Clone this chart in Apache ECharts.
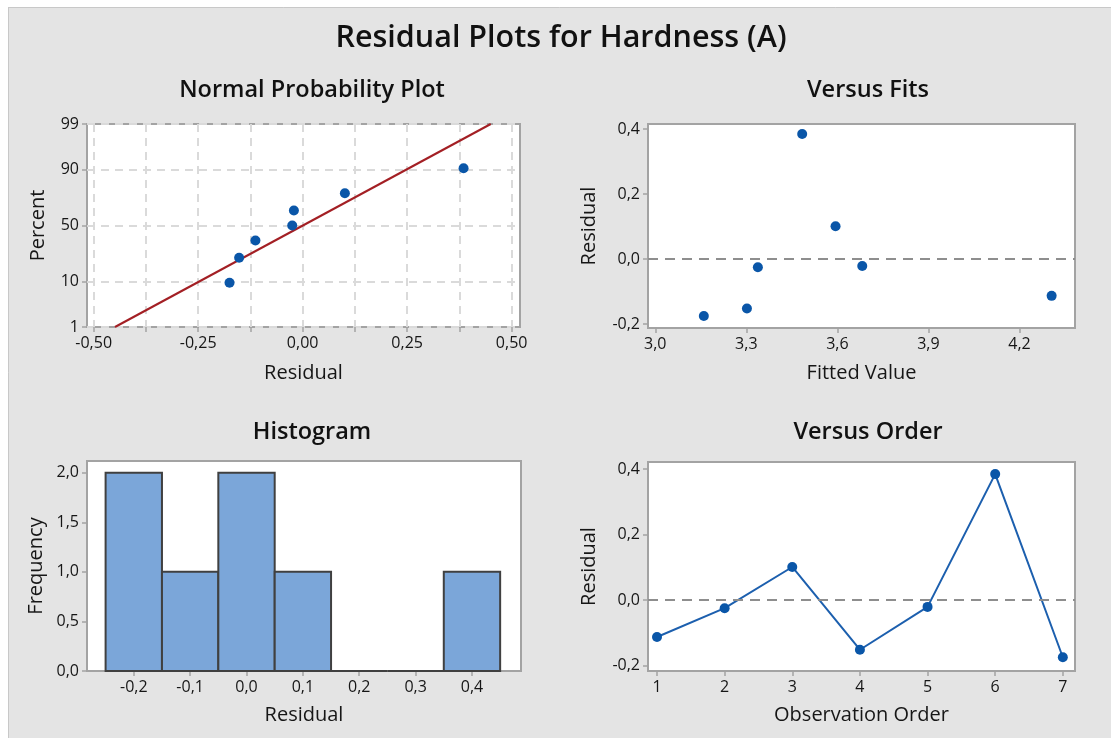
<!DOCTYPE html>
<html>
<head>
<meta charset="utf-8">
<script src="https://cdn.jsdelivr.net/npm/echarts@6/dist/echarts.min.js"></script>
<style>
html,body{margin:0;padding:0;background:#fff;}
#chart{width:1111px;height:738px;}
</style>
</head>
<body>
<div id="chart"></div>
<script>
// ---- Data ----
const mainTitle = 'Residual Plots for Hardness (A)';
const observationOrder = [1, 2, 3, 4, 5, 6, 7];
const residuals = [-0.113, -0.025, 0.101, -0.152, -0.021, 0.385, -0.175];
const fittedValues = [4.306, 3.338, 3.594, 3.302, 3.682, 3.484, 3.160];
const normalPercents = [9.46, 22.97, 36.49, 50, 63.51, 77.03, 90.54];
const normalFitLine = [[-0.449, 1], [0.450, 99]]; // [residual, percent]
const percentTicks = [1, 10, 50, 90, 99];
const normalXTicks = [-0.5, -0.375, -0.25, -0.125, 0, 0.125, 0.25, 0.375, 0.5];
const normalXLabels = [-0.5, -0.25, 0, 0.25, 0.5];
const fitsXLabels = [3.0, 3.3, 3.6, 3.9, 4.2];
const residYLabels = [-0.2, 0, 0.2, 0.4];
const histBinCenters = [-0.2, -0.1, 0.0, 0.1, 0.2, 0.3, 0.4];
const histCounts = [2, 1, 2, 1, 0, 0, 1];
const histBinWidth = 0.1;
const histYLabels = [0, 0.5, 1.0, 1.5, 2.0];

// inverse standard normal (probability-axis scale transform)
function probit(p) {
  const a = [-3.969683028665376e+01, 2.209460984245205e+02, -2.759285104469687e+02, 1.383577518672690e+02, -3.066479806614716e+01, 2.506628277459239e+00];
  const b = [-5.447609879822406e+01, 1.615858368580409e+02, -1.556989798598866e+02, 6.680131188771972e+01, -1.328068155288572e+01];
  const c = [-7.784894002430293e-03, -3.223964580411365e-01, -2.400758277161838e+00, -2.549732539343734e+00, 4.374664141464968e+00, 2.938163982698783e+00];
  const d = [7.784695709041462e-03, 3.224671290700398e-01, 2.445134137142996e+00, 3.754408661907416e+00];
  const pl = 0.02425, ph = 1 - pl;
  let q, r;
  if (p < pl) { q = Math.sqrt(-2 * Math.log(p)); return (((((c[0]*q+c[1])*q+c[2])*q+c[3])*q+c[4])*q+c[5]) / ((((d[0]*q+d[1])*q+d[2])*q+d[3])*q+1); }
  if (p <= ph) { q = p - 0.5; r = q*q; return (((((a[0]*r+a[1])*r+a[2])*r+a[3])*r+a[4])*r+a[5])*q / (((((b[0]*r+b[1])*r+b[2])*r+b[3])*r+b[4])*r+1); }
  q = Math.sqrt(-2 * Math.log(1 - p)); return -(((((c[0]*q+c[1])*q+c[2])*q+c[3])*q+c[4])*q+c[5]) / ((((d[0]*q+d[1])*q+d[2])*q+d[3])*q+1);
}
function zOf(pct) { return probit(pct / 100); }
function fmt(v, dec) { let s = Math.abs(v) < 1e-9 ? (0).toFixed(dec) : v.toFixed(dec); return s.replace('.', ','); }

const sortedResid = residuals.slice().sort((x, y) => x - y);
const normalPoints = sortedResid.map((r, i) => [r, zOf(normalPercents[i])]);
const fitLineData = normalFitLine.map(p => [p[0], zOf(p[1])]);
const percentZ = percentTicks.map(zOf);
const fitsPoints = fittedValues.map((f, i) => [f, residuals[i]]);
const orderPoints = observationOrder.map((o, i) => [o, residuals[i]]);
const histData = histBinCenters.map((c, i) => [c - histBinWidth / 2, c + histBinWidth / 2, histCounts[i]]);

const FONT = '"Open Sans", "Noto Sans", sans-serif';
const TXT = '#161616';
const BOX = '#a3a3a3';
const BLUE = '#0a56a8';
const LABEL = { color: TXT, fontSize: 16, fontFamily: FONT, margin: 8 };
const TICK = { show: true, length: 5, lineStyle: { color: BOX, width: 1.5 } };

function axis(gridIndex, min, max, name, nameGap, ticks, labels, formatter, extra) {
  return Object.assign({
    type: 'value', gridIndex, min, max, name, nameGap,
    axisLine: { show: false, onZero: false },
    axisTick: Object.assign({ customValues: ticks }, TICK),
    axisLabel: Object.assign({ customValues: labels, formatter }, LABEL),
    splitLine: { show: false },
    nameLocation: 'middle',
    nameTextStyle: { color: TXT, fontSize: 20, fontFamily: FONT }
  }, extra || {});
}

const gridStyle = { show: true, backgroundColor: '#ffffff', borderColor: BOX, borderWidth: 2 };
const dashGrid = { show: true, lineStyle: { color: '#dadada', width: 2, type: [8, 6] } };

function pctFormatter(v) {
  let best = percentTicks[0], bd = 1e9;
  percentTicks.forEach(p => { const dd = Math.abs(zOf(p) - v); if (dd < bd) { bd = dd; best = p; } });
  return String(best);
}

const option = {
  backgroundColor: '#e4e4e4',
  animation: false,
  grid: [
    Object.assign({ left: 87, top: 124, width: 433, height: 203 }, gridStyle),
    Object.assign({ left: 648, top: 124, width: 427, height: 204 }, gridStyle),
    Object.assign({ left: 87, top: 461, width: 434, height: 210 }, gridStyle),
    Object.assign({ left: 648, top: 462, width: 427, height: 209 }, gridStyle)
  ],
  xAxis: [
    axis(0, -0.516, 0.52, 'Residual', 36, normalXTicks, normalXLabels, v => fmt(v, 2), { splitLine: dashGrid }),
    axis(1, 2.976, 4.383, 'Fitted Value', 35, fitsXLabels, fitsXLabels, v => fmt(v, 1)),
    axis(2, -0.283, 0.487, 'Residual', 34, histBinCenters, histBinCenters, v => fmt(v, 1)),
    axis(3, 0.867, 7.18, 'Observation Order', 34, observationOrder, observationOrder, v => String(Math.round(v)))
  ],
  yAxis: [
    axis(0, percentZ[0] - 1e-9, percentZ[percentZ.length - 1] + 1e-9, 'Percent', 39, percentZ, percentZ, pctFormatter, { splitLine: dashGrid }),
    axis(1, -0.212, 0.416, 'Residual', 49, residYLabels, residYLabels, v => fmt(v, 1)),
    axis(2, 0, 2.118, 'Frequency', 41, histYLabels, histYLabels, v => fmt(v, 1)),
    axis(3, -0.217, 0.422, 'Residual', 49, residYLabels, residYLabels, v => fmt(v, 1))
  ],
  series: [
    { type: 'line', xAxisIndex: 0, yAxisIndex: 0, data: fitLineData, symbol: 'none',
      lineStyle: { color: '#a31f24', width: 2 }, silent: true, z: 3 },
    { type: 'scatter', xAxisIndex: 0, yAxisIndex: 0, data: normalPoints, symbolSize: 10,
      itemStyle: { color: BLUE, opacity: 1 }, z: 4 },
    { type: 'scatter', xAxisIndex: 1, yAxisIndex: 1, data: fitsPoints, symbolSize: 10,
      itemStyle: { color: BLUE, opacity: 1 }, z: 4,
      markLine: { silent: true, symbol: 'none', label: { show: false },
        lineStyle: { color: '#8e8e8e', width: 2, type: [10, 7] }, data: [{ yAxis: 0 }] } },
    { type: 'custom', xAxisIndex: 2, yAxisIndex: 2, data: histData,
      renderItem: function (params, api) {
        const p0 = api.coord([api.value(0), api.value(2)]);
        const p1 = api.coord([api.value(1), 0]);
        return { type: 'rect', shape: { x: p0[0], y: p0[1], width: p1[0] - p0[0], height: p1[1] - p0[1] },
          style: { fill: '#7ba6d9', stroke: '#404040', lineWidth: 2 } };
      }, z: 3 },
    { type: 'line', xAxisIndex: 3, yAxisIndex: 3, data: orderPoints, symbol: 'circle', symbolSize: 10,
      lineStyle: { color: '#1c5fae', width: 2 }, itemStyle: { color: BLUE }, z: 4,
      markLine: { silent: true, symbol: 'none', label: { show: false },
        lineStyle: { color: '#8e8e8e', width: 2, type: [10, 7] }, data: [{ yAxis: 0 }] } }
  ],
  graphic: [
    { type: 'rect', shape: { x: 0, y: 0, width: 1111, height: 7 }, style: { fill: '#ffffff' }, silent: true },
    { type: 'rect', shape: { x: 0, y: 0, width: 8, height: 738 }, style: { fill: '#ffffff' }, silent: true },
    { type: 'line', shape: { x1: 8, y1: 7.5, x2: 1111, y2: 7.5 }, style: { stroke: '#c8c8c8', lineWidth: 1 }, silent: true },
    { type: 'line', shape: { x1: 8.5, y1: 7, x2: 8.5, y2: 738 }, style: { stroke: '#c8c8c8', lineWidth: 1 }, silent: true },
    { type: 'text', x: 561, y: 38, style: { text: mainTitle, fill: '#111', font: '600 30.5px ' + FONT, textAlign: 'center', textVerticalAlign: 'middle' } },
    { type: 'text', x: 312, y: 90, style: { text: 'Normal Probability Plot', fill: '#111', font: '600 23.5px ' + FONT, textAlign: 'center', textVerticalAlign: 'middle' } },
    { type: 'text', x: 868, y: 90, style: { text: 'Versus Fits', fill: '#111', font: '600 23.5px ' + FONT, textAlign: 'center', textVerticalAlign: 'middle' } },
    { type: 'text', x: 312, y: 432, style: { text: 'Histogram', fill: '#111', font: '600 23.5px ' + FONT, textAlign: 'center', textVerticalAlign: 'middle' } },
    { type: 'text', x: 868, y: 432, style: { text: 'Versus Order', fill: '#111', font: '600 23.5px ' + FONT, textAlign: 'center', textVerticalAlign: 'middle' } }
  ]
};

const chart = echarts.init(document.getElementById('chart'), null, { renderer: 'canvas' });
chart.setOption(option);
</script>
</body>
</html>
